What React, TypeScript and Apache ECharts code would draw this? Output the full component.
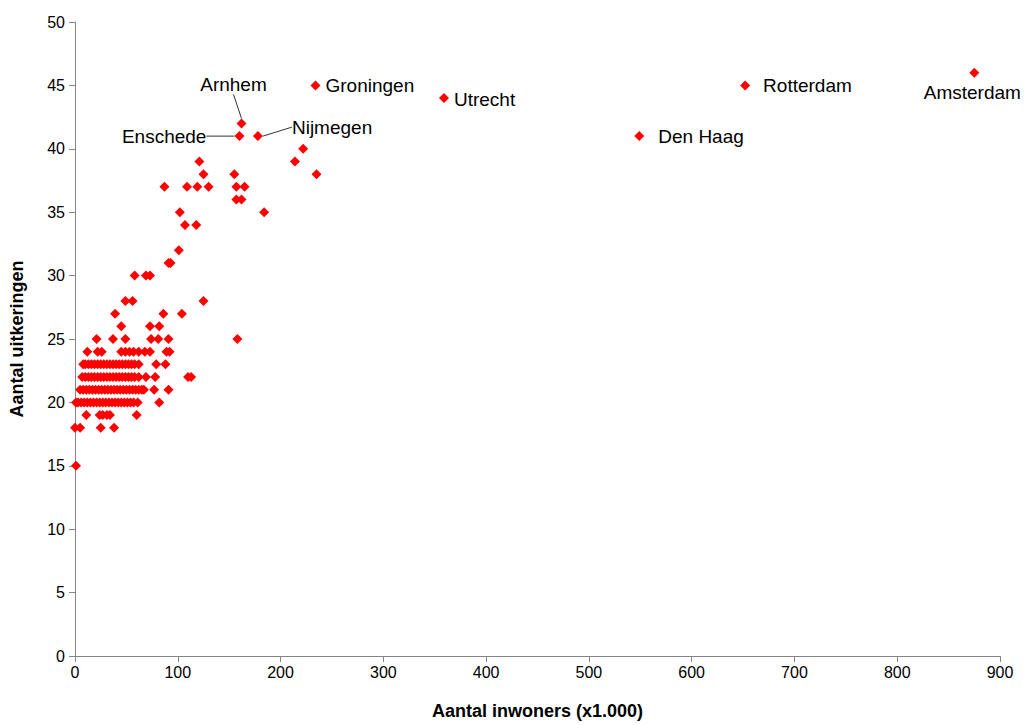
import React, { useEffect, useRef } from "react";
import * as echarts from "echarts";

// Labelled cities
const cityNames = ["Amsterdam", "Rotterdam", "Den Haag", "Utrecht", "Groningen", "Arnhem", "Enschede", "Nijmegen"];
const cityX = [875, 652, 549, 359, 234, 162, 160, 178];
const cityY = [46, 45, 41, 44, 45, 42, 41, 41];

// Other municipalities, grouped by number of benefits (y) with population (x, x1000)
const rowY = [15, 18, 19, 20, 21, 22, 23, 24, 25, 26, 27, 28, 30, 31, 32, 34, 35, 36, 37, 38, 39, 40];
const rowX: number[][] = [
  [1],
  [0, 5, 25, 38],
  [11, 24, 27, 31, 34, 60],
  [1, 3, 6, 9, 12, 15, 18, 21, 24, 27, 30, 33, 36, 39, 42, 45, 48, 51, 54, 57, 61, 82],
  [5, 8, 11, 14, 17, 20, 23, 26, 29, 32, 35, 38, 41, 44, 47, 50, 53, 56, 59, 62, 65, 67, 77, 91],
  [7, 10, 13, 16, 19, 22, 25, 28, 31, 34, 37, 40, 43, 46, 49, 52, 55, 58, 62, 69, 78, 110, 113],
  [8, 10, 13, 16, 19, 22, 25, 28, 31, 34, 37, 40, 43, 46, 49, 52, 55, 58, 62, 79, 88],
  [12, 22, 26, 45, 49, 53, 57, 62, 68, 73, 89, 92],
  [21, 37, 49, 74, 81, 91, 158],
  [45, 73, 82],
  [39, 86, 104],
  [49, 56, 125],
  [58, 69, 73],
  [91, 93],
  [101],
  [107, 118],
  [102, 184],
  [157, 162],
  [87, 109, 119, 130, 157, 165],
  [125, 155, 235],
  [121, 214],
  [222],
];

// Label placement per city: [position, distance, dx, dy, showLine]
const labelPos: [string, number, number, number, boolean][] = [
  ["bottom", 5, -2, 0, false],
  ["right", 13, 0, 0, false],
  ["right", 14, 0, 0, false],
  ["right", 5, 0, 1, false],
  ["right", 5, 0, 0, false],
  ["top", 5, -8, -19, true],
  ["left", 5, -23, 0, true],
  ["right", 5, 24, -9, true],
];

const FONT = "'Liberation Sans', Arial, sans-serif";

export default function App() {
  const ref = useRef<HTMLDivElement>(null);
  useEffect(() => {
    document.body.style.margin = "0";
    const chart = echarts.init(ref.current!, null, { renderer: "svg" });
    const others: number[][] = [];
    rowY.forEach((y, i) => rowX[i].forEach((x) => others.push([x, y])));
    const cities = cityNames.map((n, i) => ({
      name: n,
      value: [cityX[i], cityY[i]],
      label: {
        show: true,
        position: labelPos[i][0],
        distance: labelPos[i][1],
        formatter: "{b}",
      },
      labelLine: { show: labelPos[i][4], lineStyle: { color: "#333", width: 1 } },
    }));
    const axisCommon = {
      axisLine: { show: true, lineStyle: { color: "#868686", width: 1 } },
      axisTick: { show: true, inside: false, length: 6, lineStyle: { color: "#868686" } },
      splitLine: { show: false },
      nameLocation: "middle" as const,
      nameTextStyle: { fontFamily: FONT, fontWeight: "bold", fontSize: 18, color: "#000" },
    };
    chart.setOption({
      animation: false,
      textStyle: { fontFamily: FONT },
      grid: { left: 75, right: 28, top: 22, bottom: 68 },
      xAxis: {
        type: "value",
        min: 0,
        max: 900,
        interval: 100,
        name: "Aantal inwoners (x1.000)",
        nameGap: 46,
        ...axisCommon,
        axisLabel: { color: "#000", fontSize: 16, margin: 8, fontFamily: FONT },
      },
      yAxis: {
        type: "value",
        min: 0,
        max: 50,
        interval: 5,
        name: "Aantal uitkeringen",
        nameGap: 49,
        nameRotate: 90,
        ...axisCommon,
        axisLabel: { color: "#000", fontSize: 16, margin: 10, fontFamily: FONT },
      },
      series: [
        {
          type: "scatter",
          symbol: "diamond",
          symbolSize: 10,
          itemStyle: { color: "#FF0000", opacity: 1 },
          data: others,
        },
        {
          type: "scatter",
          symbol: "diamond",
          symbolSize: 10,
          itemStyle: { color: "#FF0000", opacity: 1 },
          label: { color: "#000", fontSize: 19, fontFamily: FONT },
          labelLayout: (p: any) => ({ dx: labelPos[p.dataIndex][2], dy: labelPos[p.dataIndex][3] }),
          data: cities,
        },
      ],
    });
    return () => chart.dispose();
  }, []);
  return <div ref={ref} style={{ width: 1028, height: 725 }} />;
}
